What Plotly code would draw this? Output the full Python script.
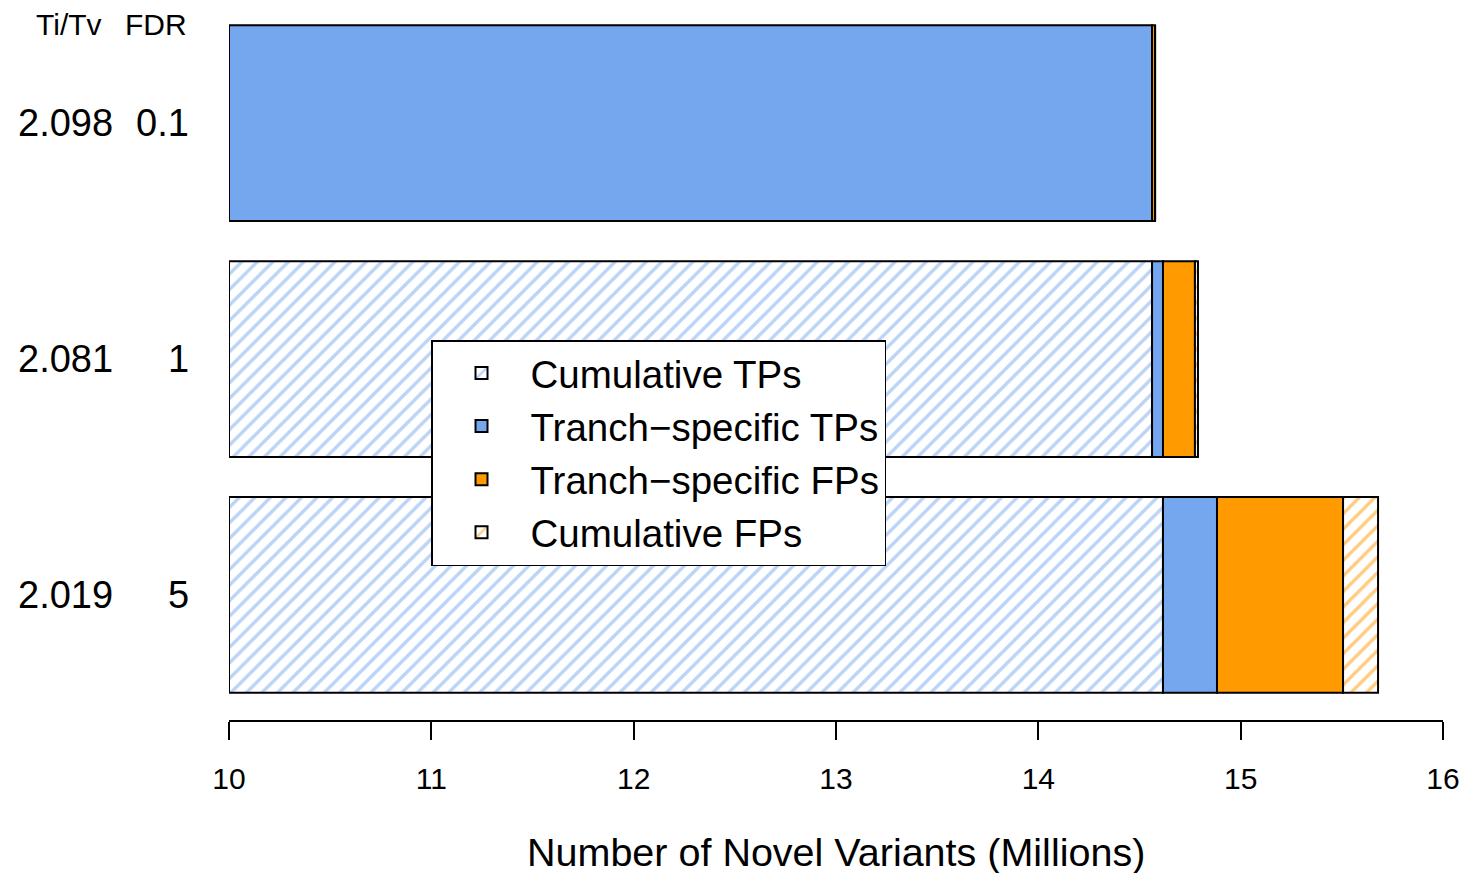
import plotly.graph_objects as go
import numpy as np

# ---- data (millions of novel variants) ----
fdr_labels = ["0.1", "1", "5"]
titv_labels = ["2.098", "2.081", "2.019"]
cum_tps = [0.0, 14.562, 14.616]
tranch_tps = [14.562, 0.054, 0.267]
tranch_fps = [0.015, 0.158, 0.623]
cum_fps = [0.0, 0.015, 0.173]

series_names = ["Cumulative TPs", "Tranch\u2212specific TPs", "Tranch\u2212specific FPs", "Cumulative FPs"]
series_vals = [cum_tps, tranch_tps, tranch_fps, cum_fps]

XMIN, XMAX = 10, 16
x_ticks = [10, 11, 12, 13, 14, 15, 16]

BLUE = "#75a7ef"
ORANGE = "#ff9a00"
styles = [
    dict(color="white", pattern=dict(shape="/", fgcolor=BLUE, bgcolor="white", size=11, solidity=0.3)),
    dict(color=BLUE),
    dict(color=ORANGE),
    dict(color="white", pattern=dict(shape="/", fgcolor=ORANGE, bgcolor="white", size=11, solidity=0.3)),
]

ypos = [3, 2, 1]
FONT = "Liberation Sans, Arial, Helvetica, sans-serif"

fig = go.Figure()
left = np.zeros(len(ypos))
for name, vals, st in zip(series_names, series_vals, styles):
    vals = np.array(vals, dtype=float)
    right = left + vals
    base = np.maximum(left, XMIN)
    width = np.maximum(right - base, 0)
    fig.add_trace(go.Bar(
        name=name, orientation="h", y=ypos, x=width, base=base,
        width=0.83,
        marker=dict(line=dict(color="black", width=2), **st),
        hoverinfo="name+x",
    ))
    left = right

# left-side labels
for yv, tt, fd in zip(ypos, titv_labels, fdr_labels):
    fig.add_annotation(x=-0.0935, xref="paper", y=yv, yref="y", text=tt, showarrow=False,
                       xanchor="right", yanchor="middle", font=dict(size=38, color="black", family=FONT))
    fig.add_annotation(x=-0.031, xref="paper", y=yv, yref="y", text=fd, showarrow=False,
                       xanchor="right", yanchor="middle", font=dict(size=38, color="black", family=FONT))
fig.add_annotation(x=-0.103, xref="paper", y=0.979, yref="paper", text="Ti/Tv", showarrow=False,
                   xanchor="right", yanchor="middle", font=dict(size=30, color="black", family=FONT))
fig.add_annotation(x=-0.0329, xref="paper", y=0.979, yref="paper", text="FDR", showarrow=False,
                   xanchor="right", yanchor="middle", font=dict(size=30, color="black", family=FONT))

# x-axis title
fig.add_annotation(x=0.5, xref="paper", y=-0.186, yref="paper", text="Number of Novel Variants (Millions)",
                   showarrow=False, xanchor="center", yanchor="middle",
                   font=dict(size=39.5, color="black", family=FONT))

fig.update_layout(
    width=1467, height=873,
    margin=dict(l=229, r=24, t=10, b=153, autoexpand=False),
    paper_bgcolor="white", plot_bgcolor="white",
    barmode="overlay",
    font=dict(family=FONT, color="black"),
    showlegend=True,
    legend=dict(x=0.1664, y=0.5352, xanchor="left", yanchor="top",
                bgcolor="white", bordercolor="black", borderwidth=1.5,
                font=dict(size=38.5, color="black", family=FONT),
                traceorder="normal", itemwidth=88),
    xaxis=dict(range=[XMIN, XMAX], tickvals=x_ticks, ticktext=[str(t) for t in x_ticks],
               showgrid=False, zeroline=False, showline=True, linecolor="black", linewidth=1.5,
               ticks="outside", ticklen=18, tickwidth=1.5, tickcolor="black",
               tickfont=dict(size=30, color="black", family=FONT), ticklabelstandoff=13),
    yaxis=dict(range=[0.47, 3.48], visible=False, fixedrange=True),
)

fig.write_html("out.html")
